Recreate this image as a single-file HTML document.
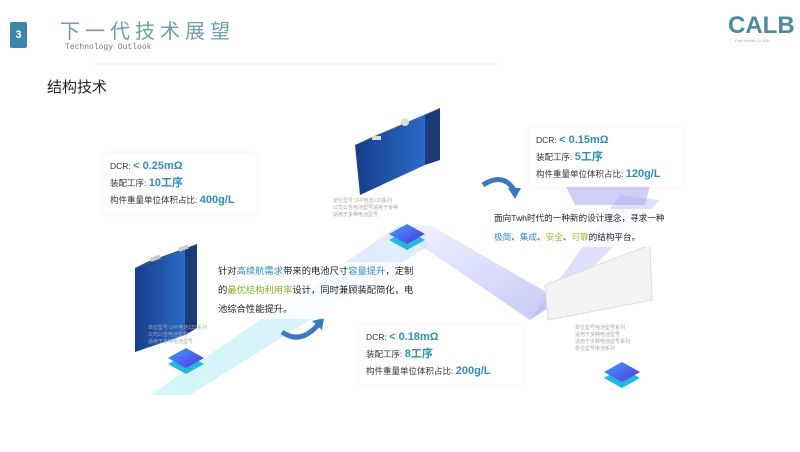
<!DOCTYPE html>
<html><head><meta charset="utf-8"><style>
body{margin:0;width:800px;height:452px;background:#fff;overflow:hidden;position:relative;font-family:"Liberation Sans","Noto Sans CJK SC",sans-serif}
.a{position:absolute}
.card{position:absolute;background:#fff;box-shadow:0 0 8px rgba(0,0,0,0.05);font-size:8.5px;color:#333;line-height:17px;padding:4px 6px;white-space:nowrap}
.card b{color:#2f8fb8;font-size:11px}
.note{position:absolute;font-size:5px;color:#aaa;line-height:7px;white-space:nowrap}
.txt{position:absolute;font-size:9.3px;line-height:19px;color:#222;background:rgba(255,255,255,0.8);white-space:nowrap;padding:0 2px}
</style></head><body>
<svg class="a" style="left:0;top:0" width="800" height="452">
<defs>
<linearGradient id="g1" x1="0" y1="1" x2="1" y2="0"><stop offset="0" stop-color="#9eeef0" stop-opacity="0.45"/><stop offset="1" stop-color="#c8d4ff" stop-opacity="0.5"/></linearGradient>
<linearGradient id="g2" x1="0" y1="0" x2="1" y2="1"><stop offset="0" stop-color="#dde8ff" stop-opacity="0.5"/><stop offset="1" stop-color="#a0a0f0" stop-opacity="0.6"/></linearGradient>
<linearGradient id="sq" x1="0" y1="0" x2="1" y2="1"><stop offset="0" stop-color="#3aa0ff"/><stop offset="1" stop-color="#5a30e0"/></linearGradient>
<linearGradient id="bat" x1="0" y1="0" x2="1" y2="0"><stop offset="0" stop-color="#163e8a"/><stop offset="1" stop-color="#2a6ac8"/></linearGradient>
</defs>
<polygon points="150,395 190,395 430,245 400,225" fill="url(#g1)"/>
<polygon points="395,228 430,225 560,300 530,320" fill="url(#g2)"/>
<polygon points="530,320 560,300 660,200 620,195" fill="#b8b8f2" opacity="0.45"/>
<polygon points="565,185 650,185 645,205 575,205" fill="#a8a8f2" opacity="0.55"/>
<line x1="90" y1="64" x2="500" y2="64" stroke="#f2f2f2"/>
<!-- left battery -->
<polygon points="135,268 185,250 185,335 135,352" fill="url(#bat)"/>
<polygon points="185,250 197,244 197,328 185,335" fill="#1a3a78"/>
<polygon points="135,268 185,250 197,244 147,262" fill="#2a4a7a"/>
<rect x="150" y="258" width="10" height="4" fill="#ccc" transform="rotate(-20 150 258)"/>
<rect x="178" y="248" width="10" height="4" fill="#ccc" transform="rotate(-20 178 248)"/>
<!-- middle battery -->
<polygon points="355,145 425,115 425,165 360,195" fill="url(#bat)"/>
<polygon points="425,115 440,108 440,160 425,165" fill="#1a3a78"/>
<polygon points="355,145 425,115 440,108 370,138" fill="#2a4a7a"/>
<circle cx="405" cy="122" r="4" fill="#ddd"/>
<rect x="372" y="136" width="9" height="4" fill="#ddd"/>
<polygon points="545,285 650,245 652,300 548,320" fill="#f3f3f3" stroke="#ddd"/>
<!-- arrows -->
<path d="M282,332 Q300,345 318,325" stroke="#3a78c0" stroke-width="5" fill="none"/>
<polygon points="312,321 324,318 322,330" fill="#3a78c0"/>
<path d="M483,185 Q503,172 514,190" stroke="#3a78c0" stroke-width="5" fill="none"/>
<polygon points="508,188 521,188 515,199" fill="#3a78c0"/>
<!-- stacks -->
<g><polygon points="168,364 186,354 204,364 186,374" fill="#22b8e0"/><polygon points="168,358 186,348 204,358 186,368" fill="url(#sq)"/></g>
<g><polygon points="389,240 407,230 425,240 407,250" fill="#22b8e0"/><polygon points="389,234 407,224 425,234 407,244" fill="url(#sq)"/></g>
<g><polygon points="604,378 622,368 640,378 622,388" fill="#22b8e0"/><polygon points="604,372 622,362 640,372 622,382" fill="url(#sq)"/></g>
</svg>
<div class="a" style="left:10px;top:22px;width:17px;height:26px;background:#3d86a5;border-radius:2px;color:#fff;font-size:11px;font-weight:bold;text-align:center;line-height:26px">3</div>
<div class="a" style="left:60px;top:15px;font-size:20px;color:#6d9eaa;letter-spacing:5px">下一代技术展望</div>
<div class="a" style="left:65px;top:43px;font-size:8px;color:#777;font-family:'Liberation Mono',monospace">Technology Outlook</div>
<div class="a" style="left:728px;top:12px;font-size:24px;font-weight:bold;color:#4a8c9c">CALB</div>
<div class="a" style="left:735px;top:38px;font-size:4px;color:#aaa">Fast Wheel Go Win</div>
<div class="a" style="left:47px;top:76px;font-size:15px;color:#222">结构技术</div>
<div class="card" style="left:104px;top:154px;width:140px">DCR: <b>&lt; 0.25mΩ</b><br>装配工序: <b>10工序</b><br>构件重量单位体积占比: <b>400g/L</b></div>
<div class="card" style="left:530px;top:128px;width:140px">DCR: <b>&lt; 0.15mΩ</b><br>装配工序: <b>5工序</b><br>构件重量单位体积占比: <b>120g/L</b></div>
<div class="card" style="left:360px;top:325px;width:150px">DCR: <b>&lt; 0.18mΩ</b><br>装配工序: <b>8工序</b><br>构件重量单位体积占比: <b>200g/L</b></div>
<div class="txt" style="left:216px;top:262px">针对<span style="color:#2f8fb8">高续航需求</span>带来的电池尺寸<span style="color:#2f8fb8">容量提升</span>，定制<br>的<span style="color:#7bb82a">最优结构利用率</span>设计，同时兼顾装配简化，电<br>池综合性能提升。</div>
<div class="txt" style="left:492px;top:209px;font-size:8.6px">面向Twh时代的一种新的设计理念，寻求一种<br><span style="color:#2f8fb8">极简</span>、<span style="color:#2f8fb8">集成</span>、<span style="color:#9bb82a">安全</span>、<span style="color:#9bb82a">可靠</span>的结构平台。</div>
<div class="note" style="left:148px;top:325px">单位型号 LFP电池123系列<br>公司公告电池型号<br>适用于多种电池型号</div>
<div class="note" style="left:333px;top:198px">单位型号 LFP电池123系列<br>公司公告电池型号适用于多种<br>适用于多种电池型号</div>
<div class="note" style="left:575px;top:325px">单位型号电池型号系列<br>适用于多种电池型号<br>适用于多种电池型号系列<br>单位型号电池系列</div>
</body></html>
